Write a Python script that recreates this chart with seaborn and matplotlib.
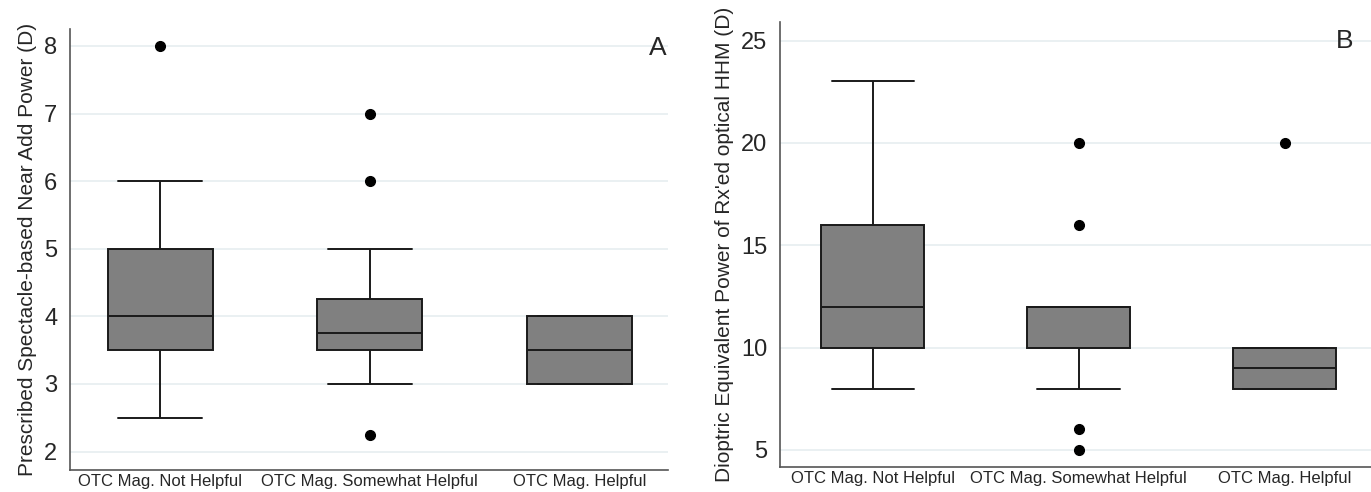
import matplotlib
matplotlib.use("Agg")
import matplotlib.pyplot as plt
import seaborn as sns
import pandas as pd

# Group labels
groups = ["OTC Mag. Not Helpful", "OTC Mag. Somewhat Helpful", "OTC Mag. Helpful"]

# Panel A: prescribed spectacle-based near add power (D), per group
add_not_helpful = [2.5, 3, 3.5, 3.5, 4, 4.5, 5, 6, 8]
add_somewhat = [2.25, 3, 3.5, 3.5, 3.5, 3.75, 3.75, 4, 4.25, 4.25, 5, 6, 7]
add_helpful = [3, 3, 3.5, 4, 4]

# Panel B: dioptric equivalent power of prescribed optical HHM (D), per group
hhm_not_helpful = [8, 10, 10, 11, 12, 14, 16, 20, 23]
hhm_somewhat = [5, 6, 8, 10, 10, 12, 12, 12, 12, 12, 12, 16, 20]
hhm_helpful = [8, 8, 8, 9, 9, 10, 10, 10, 20]

yticks_a = [2, 3, 4, 5, 6, 7, 8]
yticks_b = [5, 10, 15, 20, 25]


def long_df(series):
    rows = []
    for g, vals in zip(groups, series):
        rows += [(g, v) for v in vals]
    return pd.DataFrame(rows, columns=["group", "value"])


df_a = long_df([add_not_helpful, add_somewhat, add_helpful])
df_b = long_df([hhm_not_helpful, hhm_somewhat, hhm_helpful])

sns.set_style("white")
plt.rcParams["font.family"] = ["Liberation Sans", "DejaVu Sans"]

fig = plt.figure(figsize=(13.71, 4.92), dpi=100)
ax_a = fig.add_axes([0.051, 0.045, 0.436, 0.896])
ax_b = fig.add_axes([0.569, 0.051, 0.431, 0.904])

line_kw = dict(color="#1a1a1a", linewidth=1.4)


def draw_panel(ax, df, yticks, ylim, xlim, ylabel, letter, lx, ly):
    for t in yticks:
        ax.axhline(t, color="#e6eef0", linewidth=1.2, zorder=0)
    sns.boxplot(
        data=df, x="group", y="value", order=groups, ax=ax,
        width=0.5, color="#808080", saturation=1, whis=1.5,
        boxprops=dict(edgecolor="#1a1a1a", linewidth=1.4),
        medianprops=line_kw, whiskerprops=line_kw, capprops=line_kw,
        flierprops=dict(marker="o", markerfacecolor="black",
                        markeredgecolor="black", markersize=7),
        capwidths=0.4,
    )
    ax.set_ylim(*ylim)
    ax.set_xlim(*xlim)
    ax.set_yticks(yticks)
    ax.set_xlabel("")
    ax.set_ylabel(ylabel, fontsize=15, labelpad=5)
    ax.tick_params(axis="y", labelsize=17, length=5, width=1, color="#555555", pad=4)
    ax.tick_params(axis="x", labelsize=12, length=0, pad=3)
    for s in ["top", "right"]:
        ax.spines[s].set_visible(False)
    for s in ["left", "bottom"]:
        ax.spines[s].set_color("#555555")
        ax.spines[s].set_linewidth(1.2)
    ax.text(lx, ly, letter, transform=ax.transAxes, ha="right", va="top", fontsize=19)


draw_panel(ax_a, df_a, yticks_a, (1.73, 8.25), (-0.43, 2.42),
           "Prescribed Spectacle-based Near Add Power (D)", "A", 0.998, 0.985)
draw_panel(ax_b, df_b, yticks_b, (4.17, 25.9), (-0.45, 2.42),
           "Dioptric Equivalent Power of Rx'ed optical HHM (D)", "B", 0.97, 0.985)

fig.savefig("out.png", dpi=100)
